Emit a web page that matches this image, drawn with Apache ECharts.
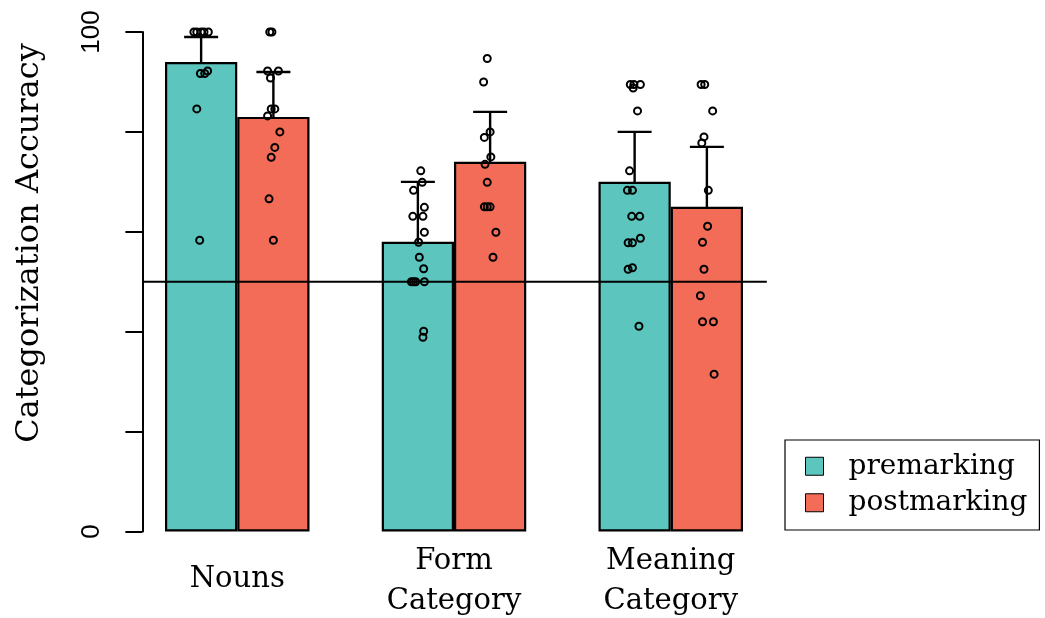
<!DOCTYPE html>
<html>
<head>
<meta charset="utf-8">
<script src="https://cdn.jsdelivr.net/npm/echarts@6/dist/echarts.min.js"></script>
<style>
html,body{margin:0;padding:0;background:#fff;}
#chart{width:1045px;height:618px;}
</style>
</head>
<body>
<div id="chart"></div>
<script>
// ---------------- data ----------------
const categories = ['Nouns', 'Form\nCategory', 'Meaning\nCategory'];
const seriesNames = ['premarking', 'postmarking'];
const premarkingMeans = [94, 58, 70];
const postmarkingMeans = [83, 74, 65];
const premarkingLow = [89, 46, 60];
const premarkingHigh = [99, 70, 80];
const postmarkingLow = [74, 64, 53];
const postmarkingHigh = [92, 84, 77];
const yTickLabels = ['0', '100'];
// individual participants: [jitter (in bar widths), accuracy]
const premarkingPoints = [
  [[-0.10,100],[-0.06,100],[0,100],[0.04,100],[0.10,100],[0.09,92.2],[-0.01,91.7],[0.05,91.7],[-0.06,84.6],[-0.02,58.3]],
  [[0.04,72.2],[0.06,69.9],[-0.06,68.3],[0.09,64.9],[-0.07,63.1],[0.07,63.1],[0.09,59.9],[0.01,57.9],[0.02,54.9],[0.08,52.6],[-0.09,50],[-0.06,50],[-0.03,50],[0.09,50],[0.08,40.1],[0.07,38.9]],
  [[-0.06,89.5],[-0.01,89.5],[0.08,89.5],[-0.02,88.8],[0.04,84.2],[-0.07,72.2],[-0.10,68.3],[-0.03,68.3],[-0.04,63.1],[0.07,63.1],[0.08,58.7],[-0.09,57.8],[-0.03,57.8],[-0.09,52.5],[-0.03,52.8],[0.06,41.1]]
];
const postmarkingPoints = [
  [[-0.05,100],[-0.02,100],[-0.08,92.2],[0.07,92.2],[-0.04,90.8],[-0.03,84.6],[0.02,84.6],[-0.08,83.2],[0.09,80.0],[0.02,76.9],[-0.03,74.9],[-0.06,66.6],[0,58.3]],
  [[-0.04,94.7],[-0.09,90.0],[0,80.0],[-0.08,78.9],[0.01,75.0],[-0.07,73.5],[-0.04,69.9],[-0.08,65.0],[-0.04,65.0],[0,65.0],[0.08,59.9],[0.04,54.9]],
  [[-0.08,89.5],[-0.03,89.5],[0.08,84.2],[-0.04,79.0],[-0.07,77.8],[0.02,68.3],[0.01,61.1],[-0.06,57.9],[-0.04,52.5],[-0.09,47.2],[-0.06,42.0],[0.09,42.0],[0.10,31.5]]
];
const chanceLevel = 50;

// ---------------- build ----------------
const COLORS = ['#5BC5BE', '#F26C57'];
const SERIF = '"DejaVu Serif", serif';
// bar slots in x units: group g -> premarking at 3g+1.5, postmarking at 3g+2.5
function slot(g, s) { return 3 * g + 1.5 + s; }

const errData = [];
categories.forEach((c, g) => {
  errData.push([slot(g, 0), premarkingLow[g], premarkingHigh[g]]);
  errData.push([slot(g, 1), postmarkingLow[g], postmarkingHigh[g]]);
});
const pts = [];
[premarkingPoints, postmarkingPoints].forEach((arr, s) => {
  arr.forEach((grp, g) => grp.forEach(p => pts.push([slot(g, s) + p[0], p[1]])));
});

const chart = echarts.init(document.getElementById('chart'), null, {renderer: 'canvas'});
chart.setOption({
  animation: false,
  backgroundColor: '#fff',
  grid: {left: 128.875, top: 32, width: 650.25, height: 499.5, containLabel: false, outerBoundsMode: 'none'},
  legend: {
    orient: 'vertical',
    left: 785, top: 440,
    data: seriesNames,
    icon: 'rect',
    itemWidth: 18, itemHeight: 18, itemGap: 0,
    borderColor: '#000', borderWidth: 1.2,
    padding: [8, 12, 9, 20],
    itemStyle: {borderColor: '#000', borderWidth: 1},
    textStyle: {fontFamily: SERIF, fontSize: 28, color: '#000', lineHeight: 36.5, padding: [0, 0, 0, 20]}
  },
  xAxis: [
    {
      type: 'category', data: categories, gridIndex: 0,
      axisLine: {show: false}, axisTick: {show: false}, splitLine: {show: false},
      axisLabel: {
        margin: 10, color: '#000', fontFamily: SERIF, fontSize: 29, lineHeight: 40, interval: 0,
        formatter: v => v.indexOf('\n') < 0 ? '{one|' + v + '}' : v,
        rich: {one: {fontFamily: SERIF, fontSize: 29, lineHeight: 76, color: '#000'}}
      }
    },
    {type: 'value', min: 0.5, max: 9.5, show: false, gridIndex: 0}
  ],
  yAxis: {
    type: 'value', min: 0, max: 100, interval: 20, offset: -13.5,
    axisLine: {show: true, lineStyle: {color: '#000', width: 2}},
    axisTick: {show: true, length: 17, lineStyle: {color: '#000', width: 2}},
    splitLine: {show: false},
    axisLabel: {
      rotate: 90, margin: 38, color: '#000', fontFamily: '"Liberation Sans", Arial, sans-serif', fontSize: 26,
      formatter: v => yTickLabels.indexOf(String(v)) >= 0 ? String(v) : ''
    }
  },
  graphic: [{
    type: 'text', x: 30, y: 243, rotation: Math.PI / 2,
    style: {text: 'Categorization Accuracy', fontFamily: SERIF, fontSize: 32, fill: '#000', align: 'center', verticalAlign: 'middle'}
  }],
  series: [
    {
      name: seriesNames[0], type: 'bar', data: premarkingMeans, xAxisIndex: 0,
      barGap: '0%', barCategoryGap: '33.333%',
      itemStyle: {color: COLORS[0], borderColor: '#000', borderWidth: 2.2}
    },
    {
      name: seriesNames[1], type: 'bar', data: postmarkingMeans, xAxisIndex: 0,
      barGap: '0%', barCategoryGap: '33.333%',
      itemStyle: {color: COLORS[1], borderColor: '#000', borderWidth: 2.2}
    },
    {
      type: 'line', xAxisIndex: 1, data: [[0.695, chanceLevel], [9.33, chanceLevel]],
      symbol: 'none', lineStyle: {color: '#000', width: 2.2}, silent: true
    },
    {
      type: 'custom', xAxisIndex: 1, data: errData,
      renderItem: (params, api) => {
        const x = api.value(0);
        const lo = api.coord([x, api.value(1)]);
        const hi = api.coord([x, api.value(2)]);
        const w = 17;
        const st = {stroke: '#000', lineWidth: 2.4};
        return {type: 'group', children: [
          {type: 'line', shape: {x1: lo[0], y1: lo[1], x2: hi[0], y2: hi[1]}, style: st},
          {type: 'line', shape: {x1: lo[0] - w, y1: lo[1], x2: lo[0] + w, y2: lo[1]}, style: st},
          {type: 'line', shape: {x1: hi[0] - w, y1: hi[1], x2: hi[0] + w, y2: hi[1]}, style: st}
        ]};
      }
    },
    {
      type: 'scatter', xAxisIndex: 1, data: pts, symbol: 'circle', symbolSize: 7,
      itemStyle: {color: 'rgba(0,0,0,0)', borderColor: '#000', borderWidth: 2, opacity: 1}
    }
  ]
});
</script>
</body>
</html>
